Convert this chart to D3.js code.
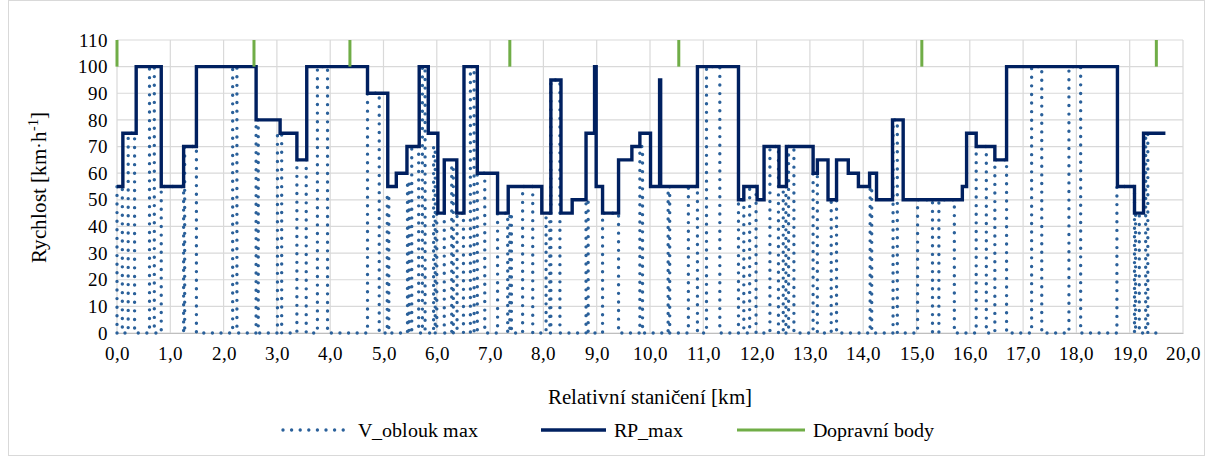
<!DOCTYPE html>
<html>
<head>
<meta charset="utf-8">
<script src="https://cdn.jsdelivr.net/npm/d3@7"></script>
<style>
  @font-face { font-family: 'ChartSerif'; src: local('Liberation Serif'), local('LiberationSerif'), local('Times New Roman'); }
  html, body { margin: 0; padding: 0; background: #fff; }
  svg { display: block; }
  svg text { font-family: 'ChartSerif', 'Liberation Serif', serif; }
</style>
</head>
<body>
<svg id="chart" width="1206" height="457"></svg>
<script>
  /* ---- data ---- */
  // RP_max: speed holds from km until next km
  const rpKm  = [0, 0.11, 0.36, 0.83, 1.25, 1.49, 2.61, 3.06, 3.375, 3.56, 4.70, 5.08, 5.24, 5.44, 5.67, 5.84,
                 6.02, 6.14, 6.375, 6.51, 6.76, 7.14, 7.34, 7.97, 8.14, 8.33, 8.54, 8.80, 8.96, 8.99, 9.11, 9.41,
                 9.66, 9.81, 10.01, 10.18, 10.20, 10.89, 11.66, 11.76, 12.01, 12.14, 12.42, 12.56, 13.06, 13.14,
                 13.34, 13.50, 13.72, 13.91, 14.12, 14.25, 14.55, 14.75, 15.86, 15.94, 16.12, 16.47, 16.69, 18.77,
                 19.09, 19.26, 19.67];
  const rpVal = [55, 75, 100, 55, 70, 100, 80, 75, 65, 100, 90, 55, 60, 70, 100, 75,
                 45, 65, 45, 100, 60, 45, 55, 45, 95, 45, 50, 75, 100, 55, 45, 65,
                 70, 75, 55, 95, 55, 100, 50, 55, 50, 70, 55, 70, 60, 65,
                 50, 65, 60, 55, 60, 50, 80, 50, 55, 75, 70, 65, 100, 55,
                 45, 75, 75];

  // V_oblouk max: curves [start km, end km, speed]
  const curveStart = [0.00, 0.21, 0.61, 0.83, 1.27, 2.17, 2.61, 3.01, 3.375, 3.76, 4.70, 5.07, 5.45, 5.53, 5.73,
                      5.94, 6.00, 6.28, 6.38, 6.63, 6.76, 7.14, 7.37, 7.61, 8.05, 8.14, 8.80, 9.11, 9.81, 10.34,
                      10.72, 11.06, 11.66, 11.87, 12.25, 12.50, 12.60, 13.06, 13.40, 14.13, 14.56, 15.02, 15.42,
                      16.12, 16.47, 17.16, 17.86, 18.76, 19.11, 19.30];
  const curveEnd   = [0.10, 0.33, 0.70, 1.25, 1.49, 2.25, 2.65, 3.09, 3.55, 3.95, 4.92, 5.10, 5.48, 5.66, 5.78,
                      5.97, 6.14, 6.31, 6.50, 6.70, 6.90, 7.33, 7.40, 7.80, 8.12, 8.31, 8.84, 9.41, 9.86, 10.37,
                      10.89, 11.31, 11.76, 11.99, 12.41, 12.55, 12.70, 13.14, 13.50, 14.16, 14.64, 15.30, 15.71,
                      16.31, 16.69, 17.35, 18.08, 19.09, 19.18, 19.34];
  const curveV     = [55, 75, 100, 55, 70, 100, 80, 75, 65, 100, 90, 52, 57, 70, 100,
                      70, 45, 63, 45, 100, 60, 45, 45, 55, 45, 95, 50, 45, 70, 55,
                      55, 100, 50, 55, 70, 55, 70, 60, 50, 55, 80, 50, 50,
                      70, 65, 100, 100, 55, 45, 75];
  const vEndKm = 19.55;

  // Dopravní body
  const dbKm = [0, 2.57, 4.37, 7.37, 10.54, 15.10, 19.5];

  const xTicks = d3.range(0, 21, 1);
  const yTicks = d3.range(0, 111, 10);

  const FONT = "ChartSerif, 'Liberation Serif', serif";

  /* ---- layout ---- */
  const svg = d3.select('#chart');
  const x = d3.scaleLinear().domain([0, 20]).range([117, 1183]);
  const y = d3.scaleLinear().domain([0, 110]).range([333, 40]);

  // chart border
  svg.append('rect')
    .attr('x', 8.5).attr('y', 0.5).attr('width', 1196).attr('height', 455)
    .attr('fill', 'none').attr('stroke', '#d9d9d9');

  // gridlines
  const grid = svg.append('g').attr('stroke', '#d9d9d9').attr('stroke-width', 1.2);
  grid.selectAll('line.h').data(yTicks).join('line')
    .attr('x1', x(0)).attr('x2', x(20))
    .attr('y1', d => y(d)).attr('y2', d => y(d));
  grid.selectAll('line.v').data(xTicks).join('line')
    .attr('y1', y(0)).attr('y2', y(110))
    .attr('x1', d => x(d)).attr('x2', d => x(d));

  // axes
  const xAxis = svg.append('g').attr('transform', `translate(0,${y(0)})`)
    .call(d3.axisBottom(x).tickValues(xTicks).tickSize(0).tickPadding(14)
      .tickFormat(d => d3.format('.1f')(d).replace('.', ',')));
  xAxis.attr('font-family', null).attr('font-size', 19);
  xAxis.select('.domain').attr('stroke', '#bfbfbf').attr('stroke-width', 1.2);

  const yAxis = svg.append('g').attr('transform', `translate(${x(0)},0)`)
    .call(d3.axisLeft(y).tickValues(yTicks).tickSize(0).tickPadding(9));
  yAxis.attr('font-family', null).attr('font-size', 19);
  yAxis.select('.domain').remove();

  // axis titles
  const yTitle = svg.append('text')
    .attr('transform', 'translate(46,187) rotate(-90)')
    .attr('text-anchor', 'middle').attr('font-size', 21);
  yTitle.append('tspan').text('Rychlost [km·h');
  yTitle.append('tspan').text('-1').attr('font-size', 14).attr('dy', -8);
  yTitle.append('tspan').text(']').attr('dy', 8);

  svg.append('text')
    .attr('x', 650).attr('y', 404).attr('text-anchor', 'middle')
    .attr('font-size', 21)
    .text('Relativní staničení [km]');

  /* ---- V_oblouk max (dotted) ---- */
  const vPts = [];
  curveStart.forEach((s, i) => {
    vPts.push([s, 0], [s, curveV[i]], [curveEnd[i], curveV[i]], [curveEnd[i], 0]);
  });
  vPts.push([vEndKm, 0]);
  const line = d3.line().x(d => x(d[0])).y(d => y(d[1]));
  svg.append('path')
    .attr('d', line(vPts))
    .attr('fill', 'none')
    .attr('stroke', '#2a609a')
    .attr('stroke-width', 3.4)
    .attr('stroke-linecap', 'round')
    .attr('stroke-dasharray', '0 8.6');

  /* ---- RP_max (step) ---- */
  const rpLine = d3.line().curve(d3.curveStepAfter)
    .x(d => x(d[0])).y(d => y(d[1]));
  svg.append('path')
    .attr('d', rpLine(rpKm.map((k, i) => [k, rpVal[i]])))
    .attr('fill', 'none')
    .attr('stroke', '#002060')
    .attr('stroke-width', 3.4)
    .attr('stroke-linejoin', 'miter');

  /* ---- Dopravní body ---- */
  svg.append('g').selectAll('line').data(dbKm).join('line')
    .attr('x1', d => x(d)).attr('x2', d => x(d))
    .attr('y1', y(110)).attr('y2', y(100))
    .attr('stroke', '#70ad47').attr('stroke-width', 3);

  /* ---- legend ---- */
  const legend = [
    { label: 'V_oblouk max', x0: 283, x1: 350, color: '#2a609a', dash: '0 8.6', w: 3.4 },
    { label: 'RP_max',       x0: 541, x1: 606, color: '#002060', dash: null,    w: 3.4 },
    { label: 'Dopravní body', x0: 737, x1: 805, color: '#70ad47', dash: null,   w: 3 }
  ];
  const lg = svg.append('g').selectAll('g').data(legend).join('g');
  lg.append('line')
    .attr('x1', d => d.x0).attr('x2', d => d.x1)
    .attr('y1', 430).attr('y2', 430)
    .attr('stroke', d => d.color).attr('stroke-width', d => d.w)
    .attr('stroke-linecap', d => d.dash ? 'round' : 'butt')
    .attr('stroke-dasharray', d => d.dash);
  lg.append('text')
    .attr('x', d => d.x1 + 8).attr('y', 437)
    .attr('font-size', 20)
    .text(d => d.label);

  svg.selectAll('text')
    .style('font-family', FONT)
    .attr('fill', '#000');
</script>
</body>
</html>
